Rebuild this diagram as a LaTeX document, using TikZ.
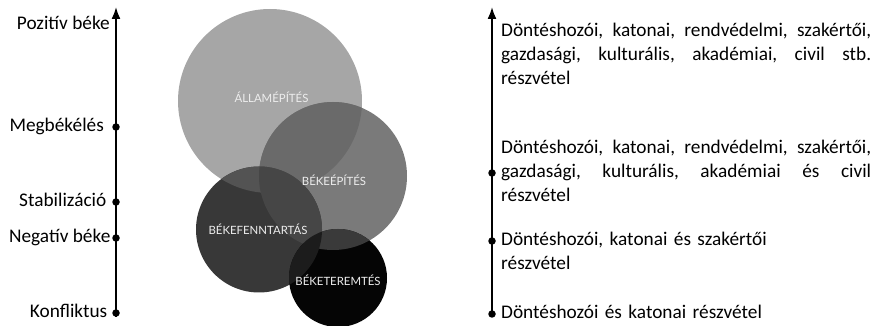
\documentclass[tikz,border=0pt]{standalone}
\usepackage{fontspec}
\setmainfont{Carlito}
\newfontfamily\circfont{Lato}
\usetikzlibrary{arrows.meta,positioning}
\definecolor{allamgray}{HTML}{A6A6A6}
\definecolor{bepitgray}{HTML}{7A7A7A}
\definecolor{bfenngray}{HTML}{383838}
\definecolor{btermgray}{HTML}{050505}
\definecolor{abegray}{HTML}{6A6A6A}
\definecolor{abfgray}{HTML}{535353}
\definecolor{bebfgray}{HTML}{464646}
\definecolor{abebfgray}{HTML}{4E4E4E}
\definecolor{bebtgray}{HTML}{3A3A3A}
\definecolor{bfbtgray}{HTML}{1C1C1C}
\definecolor{labelgray}{HTML}{EDEDED}
\tikzset{
  axis/.style={line width=1.8pt, -{Latex[length=12pt,width=9pt]}},
  tick/.style={circle, fill=black, inner sep=0pt, minimum size=7.5pt},
  levellabel/.style={inner sep=0pt, font=\fontsize{19.3}{24}\selectfont, anchor=base east},
  desc/.style={inner sep=0pt, font=\fontsize{19.3}{24}\selectfont, anchor=base west,
    text width=370pt, align=left},
  circlabel/.style={inner sep=0pt, font=\circfont\fontsize{11.4}{13}\selectfont, text=labelgray}
}
\begin{document}
\begin{tikzpicture}[x=1pt,y=1pt]
    \useasboundingbox (0,0) rectangle (875,326);
    % circles
    \coordinate (allam) at (270,225);
    \coordinate (bepit) at (333,150);
    \coordinate (bfenn) at (259,96.5);
    \coordinate (bterm) at (338,48);
    \fill[allamgray] (allam) circle (92);
    \fill[bepitgray] (bepit) circle (74);
    \fill[bfenngray] (bfenn) circle (63);
    \fill[btermgray] (bterm) circle (49);
    \begin{scope}
        \clip (allam) circle (92);
        \fill[abegray] (bepit) circle (74);
        \fill[abfgray] (bfenn) circle (63);
        \clip (bepit) circle (74);
        \fill[abebfgray] (bfenn) circle (63);
    \end{scope}
    \begin{scope}
        \clip (bepit) circle (74);
        \clip (bfenn) circle (63);
        \fill[bebfgray] (-1,-1) rectangle (600,300);
    \end{scope}
    \begin{scope}
        \clip (bterm) circle (49);
        \fill[bebtgray] (bepit) circle (74);
        \fill[bfbtgray] (bfenn) circle (63);
    \end{scope}
    \node[circlabel] (allaml) at ([xshift=1.5pt,yshift=4pt]allam) {ÁLLAMÉPÍTÉS};
    \node[circlabel] (bepitl) at ([xshift=1pt,yshift=-4pt]bepit) {BÉKEÉPÍTÉS};
    \node[circlabel] (bfennl) at ([xshift=-1pt]bfenn) {BÉKEFENNTARTÁS};
    \node[circlabel] (bterml) at ([yshift=-2pt]bterm) {BÉKETEREMTÉS};
    % left axis
    \coordinate (lbot) at (116,9);
    \coordinate (ltop) at (116,319);
    \draw[axis] (lbot) -- (ltop);
    \node[tick] (meg) at (116,199) {};
    \node[tick] (stab) at (116,124) {};
    \node[tick] (neg) at (116,88) {};
    \node[tick] (konf) at (116,13) {};
    \node[levellabel] (pozl) at (110,296) {Pozitív béke};
    \node[levellabel] (megl) at ([xshift=-12pt,yshift=-5pt]meg.center) {Megbékélés};
    \node[levellabel] (stabl) at ([xshift=-9.5pt,yshift=-5pt]stab.center) {Stabilizáció};
    \node[levellabel] (negl) at ([xshift=-5.5pt,yshift=-5pt]neg.center) {Negatív béke};
    \node[levellabel] (konfl) at ([xshift=-8.5pt,yshift=-5pt]konf.center) {Konfliktus};
    % right axis
    \coordinate (rbot) at (492,9);
    \coordinate (rtop) at (492,319);
    \draw[axis] (rbot) -- (rtop);
    \node[tick] (rmid) at (492,153) {};
    \node[tick] (rlow) at (492,85) {};
    \node[tick] (rbase) at (492,12) {};
    \node[desc] (broad) at (501,289)
        {\makebox[370pt][s]{Döntéshozói,\hfill katonai,\hfill rendvédelmi,\hfill szakértői,}\\
         \makebox[370pt][s]{gazdasági,\hfill kulturális,\hfill akadémiai,\hfill civil\hfill stb.}\\
         részvétel};
    \node[desc] (civil) at ([xshift=9pt,yshift=19.5pt]rmid.center)
        {\makebox[370pt][s]{Döntéshozói,\hfill katonai,\hfill rendvédelmi,\hfill szakértői,}\\
         \makebox[370pt][s]{gazdasági,\hfill kulturális,\hfill akadémiai\hfill és\hfill civil}\\
         részvétel};
    \node[desc] (expert) at ([xshift=9pt,yshift=-4.5pt]rlow.center)
        {Döntéshozói, katonai és szakértői\\ részvétel};
    \node[desc] (milit) at ([xshift=9pt,yshift=-4.5pt]rbase.center)
        {Döntéshozói és katonai részvétel};
\end{tikzpicture}
\end{document}
